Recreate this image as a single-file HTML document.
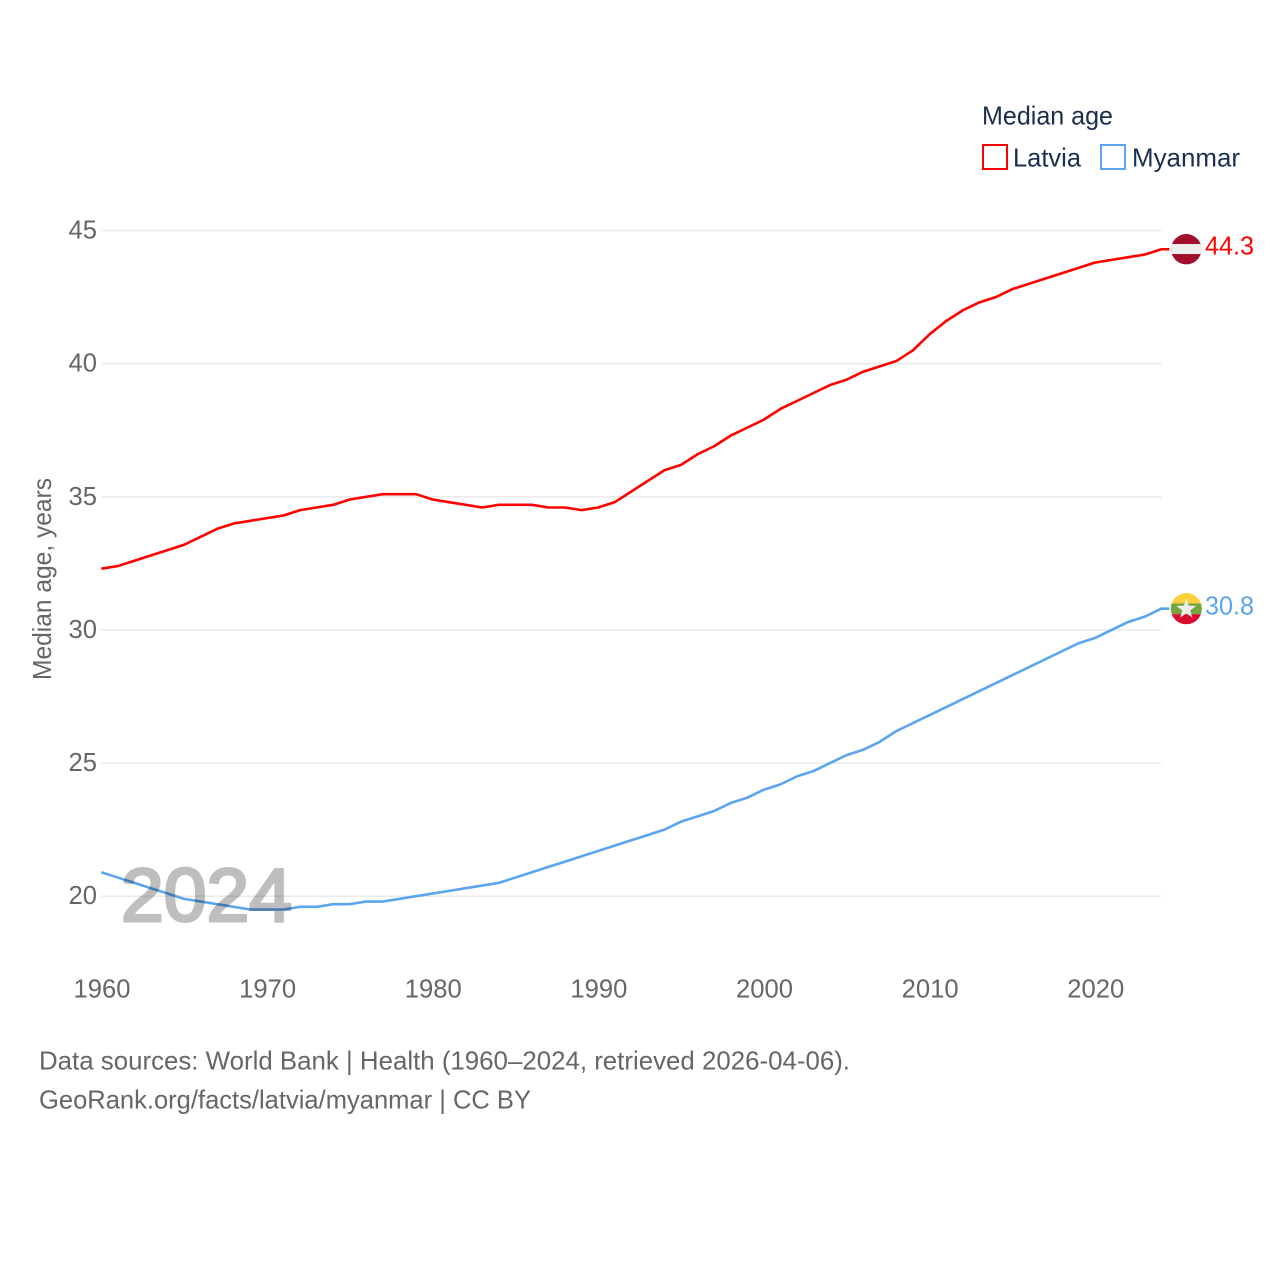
<!DOCTYPE html>
<html lang="en">
<head>
<meta charset="utf-8">
<title>Median age: Latvia and Myanmar</title>
<style>
html,body{margin:0;padding:0;background:#fff;}
svg{display:block;}
text{font-family:"Liberation Sans",sans-serif;}
</style>
</head>
<body>
<svg id="chart" width="1280" height="1280" viewBox="0 0 1280 1280" xmlns="http://www.w3.org/2000/svg">
  <rect x="0" y="0" width="1280" height="1280" fill="#ffffff"/>
  <g id="grid"></g>
  <g id="yticks"></g>
  <g id="xticks"></g>
  <g id="series"></g>

  <text transform="translate(51,680) rotate(-90)" font-size="25.6" fill="#666666" textLength="202" lengthAdjust="spacingAndGlyphs">Median age, years</text>

  <text x="982" y="124.5" font-size="25.6" fill="#1a2e50" textLength="131" lengthAdjust="spacingAndGlyphs">Median age</text>
  <g>
    <rect x="983" y="145" width="24" height="24" fill="#ffffff" stroke="#ff0000" stroke-width="2"/>
    <text x="1013" y="166.5" font-size="25.6" fill="#1a2e50" textLength="68" lengthAdjust="spacingAndGlyphs">Latvia</text>
  </g>
  <g>
    <rect x="1101" y="145" width="24" height="24" fill="#ffffff" stroke="#5ba4ee" stroke-width="2"/>
    <text x="1132" y="166.5" font-size="25.6" fill="#1a2e50" textLength="108" lengthAdjust="spacingAndGlyphs">Myanmar</text>
  </g>

  <g id="flags"></g>

  <text id="year" x="121" y="921" font-size="75" fill="#000000" stroke="#000000" stroke-width="3" opacity="0.25" textLength="171" lengthAdjust="spacingAndGlyphs">2024</text>

  <text x="39" y="1069.5" font-size="25.6" fill="#666666" textLength="811" lengthAdjust="spacingAndGlyphs">Data sources: World Bank | Health (1960–2024, retrieved 2026-04-06).</text>
  <text x="39" y="1108.5" font-size="25.6" fill="#666666" textLength="492" lengthAdjust="spacingAndGlyphs">GeoRank.org/facts/latvia/myanmar | CC BY</text>
</svg>
<script>
const startYear = 1960;
const xTickLabels = [1960, 1970, 1980, 1990, 2000, 2010, 2020];
const yTickLabels = [20, 25, 30, 35, 40, 45];
const latviaValues = [32.3,32.4,32.6,32.8,33.0,33.2,33.5,33.8,34.0,34.1,34.2,34.3,34.5,34.6,34.7,34.9,35.0,35.1,35.1,35.1,34.9,34.8,34.7,34.6,34.7,34.7,34.7,34.6,34.6,34.5,34.6,34.8,35.2,35.6,36.0,36.2,36.6,36.9,37.3,37.6,37.9,38.3,38.6,38.9,39.2,39.4,39.7,39.9,40.1,40.5,41.1,41.6,42.0,42.3,42.5,42.8,43.0,43.2,43.4,43.6,43.8,43.9,44.0,44.1,44.3];
const myanmarValues = [20.9,20.7,20.5,20.3,20.1,19.9,19.8,19.7,19.6,19.5,19.5,19.5,19.6,19.6,19.7,19.7,19.8,19.8,19.9,20.0,20.1,20.2,20.3,20.4,20.5,20.7,20.9,21.1,21.3,21.5,21.7,21.9,22.1,22.3,22.5,22.8,23.0,23.2,23.5,23.7,24.0,24.2,24.5,24.7,25.0,25.3,25.5,25.8,26.2,26.5,26.8,27.1,27.4,27.7,28.0,28.3,28.6,28.9,29.2,29.5,29.7,30.0,30.3,30.5,30.8];

const NS = 'http://www.w3.org/2000/svg';
const xScale = function (year) { return 101.3 + (year - 1960) * (1161.3 - 101.3) / 64; };
const yScale = function (v) { return 896.2 - (v - 20) * (896.2 - 230.6) / 25; };

function make(parent, tag, attrs, text) {
  const el = document.createElementNS(NS, tag);
  Object.keys(attrs).forEach(function (k) { el.setAttribute(k, attrs[k]); });
  if (text !== undefined) el.textContent = text;
  parent.appendChild(el);
  return el;
}

const grid = document.getElementById('grid');
const yticks = document.getElementById('yticks');
const xticks = document.getElementById('xticks');
const series = document.getElementById('series');
const flags = document.getElementById('flags');

yTickLabels.forEach(function (t) {
  const line = make(grid, 'line', { x1: 101.3, x2: 1161.3, y1: yScale(t), y2: yScale(t), stroke: '#ebebeb', 'stroke-width': 1.6 });
  
  
  const label = make(yticks, 'text', { x: 97, y: yScale(t) + 8, 'text-anchor': 'end', 'font-size': 25.6, fill: '#666666' }, String(t));
  
  
});

xTickLabels.forEach(function (t) {
  const label = make(xticks, 'text', { x: xScale(t) + 0.7, y: 997.5, 'text-anchor': 'middle', 'font-size': 25.6, fill: '#666666' }, String(t));
  
  
});

function drawLine(values, color, name) {
  const pts = values.map(function (v, i) { return xScale(startYear + i).toFixed(2) + ',' + yScale(v).toFixed(2); });
  const lastY = yScale(values[values.length - 1]).toFixed(2);
  pts.push('1186,' + lastY);
  const line = make(series, 'polyline', { points: pts.join(' '), fill: 'none', stroke: color, 'stroke-width': 2.6, 'stroke-linejoin': 'round' });
  
  
}
drawLine(latviaValues, '#ff0000', 'line-latvia');
drawLine(myanmarValues, '#5ba4ee', 'line-myanmar');

const latLast = latviaValues[latviaValues.length - 1];
const myaLast = myanmarValues[myanmarValues.length - 1];
const latY = yScale(latLast);
const myaY = yScale(myaLast);
const flagX = 1186.3;

const defs = make(flags, 'defs', {});
const clipLat = make(defs, 'clipPath', { id: 'clip-lat' });
make(clipLat, 'circle', { cx: flagX, cy: latY, r: 15.2 });
const clipMya = make(defs, 'clipPath', { id: 'clip-mya' });
make(clipMya, 'circle', { cx: flagX, cy: myaY, r: 15.6 });

const latRing = make(flags, 'circle', { cx: flagX, cy: latY, r: 17, fill: '#ffffff' });


const latFlag = make(flags, 'g', { 'clip-path': 'url(#clip-lat)' });


make(latFlag, 'rect', { x: flagX - 16, y: latY - 16, width: 32, height: 32, fill: '#a0102e' });
make(latFlag, 'rect', { x: flagX - 16, y: latY - 5.2, width: 32, height: 10, fill: '#eeeeee' });

const myaRing = make(flags, 'circle', { cx: flagX, cy: myaY, r: 17, fill: '#ffffff' });


const myaFlag = make(flags, 'g', { 'clip-path': 'url(#clip-mya)' });


make(myaFlag, 'rect', { x: flagX - 16, y: myaY - 16, width: 32, height: 11, fill: '#fdd03b' });
make(myaFlag, 'rect', { x: flagX - 16, y: myaY - 5.2, width: 32, height: 10.7, fill: '#76a63f' });
make(myaFlag, 'rect', { x: flagX - 16, y: myaY + 5.5, width: 32, height: 11, fill: '#dc0a2d' });
const star = [];
for (let i = 0; i < 10; i++) {
  const r = i % 2 === 0 ? 10.5 : 4.2;
  const a = -Math.PI / 2 + i * Math.PI / 5;
  star.push((flagX + r * Math.cos(a)).toFixed(2) + ',' + (myaY + 0.5 + r * Math.sin(a)).toFixed(2));
}
make(myaFlag, 'polygon', { points: star.join(' '), fill: '#eeeeee' });

const latLabel = make(flags, 'text', { x: 1205, y: latY + 5.5, 'font-size': 25.6, fill: '#ff0000', textLength: 49, lengthAdjust: 'spacingAndGlyphs' }, latLast.toFixed(1));


const myaLabel = make(flags, 'text', { x: 1205, y: myaY + 6, 'font-size': 25.6, fill: '#5ba4ee', textLength: 49, lengthAdjust: 'spacingAndGlyphs' }, myaLast.toFixed(1));


</script>
</body>
</html>
